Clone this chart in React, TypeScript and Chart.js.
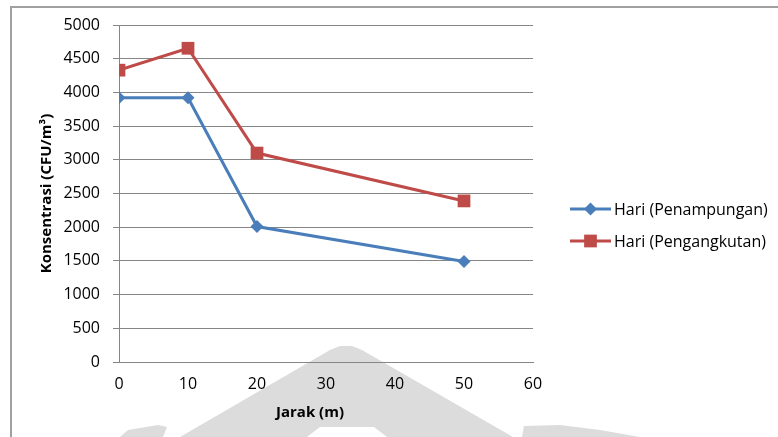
import { useEffect, useRef } from "react";
import { Chart, registerables } from "chart.js";

Chart.register(...registerables);

// Distance from the source (m)
const distances = [0, 10, 20, 50];
// Bacterial concentration (CFU/m³) per series
const penampungan = [3920, 3920, 2010, 1490];
const pengangkutan = [4330, 4655, 3100, 2390];

const seriesLabels = ["Hari (Penampungan)", "Hari (Pengangkutan)"];
const seriesColors = ["#4a7ebb", "#be4b48"];
const seriesMarkers = ["rectRot", "rect"];
const seriesRadius = [6.5, 9];

const xTickMin = 0;
const xTickMax = 60;
const xTickStep = 10;
const yTickMin = 0;
const yTickMax = 5000;
const yTickStep = 500;

const xAxisTitle = "Jarak (m)";
const yAxisTitle = "Konsentrasi (CFU/m³)";

const FONT = "'Open Sans', 'DejaVu Sans', sans-serif";
const GRID = "#868686";

// White page, faint grey emblem behind the plot, and the frame lines.
const backdropPlugin = {
  id: "backdrop",
  beforeDraw(chart: Chart) {
    const ctx = chart.ctx;
    ctx.save();
    ctx.fillStyle = "#ffffff";
    ctx.fillRect(0, 0, chart.width, chart.height);

    ctx.fillStyle = "#dcdcdc";
    ctx.beginPath();
    ctx.moveTo(180, 437);
    ctx.lineTo(330, 350);
    ctx.lineTo(340, 346);
    ctx.lineTo(352, 346);
    ctx.lineTo(362, 350);
    ctx.lineTo(513, 437);
    ctx.lineTo(387, 437);
    ctx.lineTo(374, 427);
    ctx.lineTo(320, 427);
    ctx.lineTo(307, 437);
    ctx.closePath();
    ctx.fill();

    ctx.beginPath();
    ctx.moveTo(120, 437);
    ctx.lineTo(128, 430);
    ctx.lineTo(158, 425);
    ctx.lineTo(167, 427);
    ctx.lineTo(163, 437);
    ctx.closePath();
    ctx.fill();

    ctx.beginPath();
    ctx.moveTo(522, 437);
    ctx.lineTo(524, 426);
    ctx.lineTo(560, 425);
    ctx.lineTo(600, 430);
    ctx.lineTo(640, 437);
    ctx.closePath();
    ctx.fill();

    ctx.strokeStyle = "#a0a0a0";
    ctx.lineWidth = 2;
    ctx.beginPath();
    ctx.moveTo(11, chart.height);
    ctx.lineTo(11, 7);
    ctx.lineTo(chart.width, 7);
    ctx.stroke();
    ctx.restore();
  },
};

function markerPath(ctx: CanvasRenderingContext2D, style: string, x: number, y: number, r: number) {
  ctx.beginPath();
  if (style === "rectRot") {
    ctx.moveTo(x - r, y);
    ctx.lineTo(x, y - r);
    ctx.lineTo(x + r, y);
    ctx.lineTo(x, y + r);
    ctx.closePath();
  } else {
    const s = Math.SQRT1_2 * r;
    ctx.rect(x - s, y - s, 2 * s, 2 * s);
  }
}

// Axis titles and the line-with-marker legend on the right.
const annotationsPlugin = {
  id: "annotations",
  afterDraw(chart: Chart) {
    const ctx = chart.ctx;
    const area = chart.chartArea;
    ctx.save();
    ctx.fillStyle = "#000000";
    ctx.font = `bold 15px ${FONT}`;
    ctx.textAlign = "center";
    ctx.textBaseline = "middle";
    ctx.fillText(xAxisTitle, 310, 413);

    ctx.save();
    ctx.translate(47, (area.top + area.bottom) / 2);
    ctx.rotate(-Math.PI / 2);
    ctx.fillText(yAxisTitle, 0, 0);
    ctx.restore();

    const legendY = [209, 241];
    chart.data.datasets.forEach((ds: any, i: number) => {
      const y = legendY[i];
      ctx.strokeStyle = seriesColors[i];
      ctx.lineWidth = 3;
      ctx.beginPath();
      ctx.moveTo(570, y);
      ctx.lineTo(611, y);
      ctx.stroke();
      ctx.fillStyle = seriesColors[i];
      markerPath(ctx, seriesMarkers[i], 590.5, y, seriesRadius[i]);
      ctx.fill();
      ctx.fillStyle = "#000000";
      ctx.font = `16px ${FONT}`;
      ctx.textAlign = "left";
      ctx.textBaseline = "middle";
      ctx.fillText(ds.label, 614, y + 1);
    });
    ctx.restore();
  },
};

export default function App() {
  const canvasRef = useRef<HTMLCanvasElement | null>(null);

  useEffect(() => {
    const canvas = canvasRef.current;
    if (!canvas) return;
    const series = [penampungan, pengangkutan];
    const chart = new Chart(canvas, {
      type: "line",
      data: {
        datasets: series.map((values, i) => ({
          label: seriesLabels[i],
          data: values.map((v, j) => ({ x: distances[j], y: v })),
          borderColor: seriesColors[i],
          backgroundColor: seriesColors[i],
          borderWidth: 3,
          pointStyle: seriesMarkers[i] as any,
          pointRadius: seriesRadius[i],
          pointHoverRadius: seriesRadius[i],
          pointBorderWidth: 0,
          tension: 0,
          fill: false,
        })),
      },
      options: {
        animation: false,
        responsive: false,
        maintainAspectRatio: false,
        devicePixelRatio: 1,
        layout: { padding: { top: 25, right: 245, bottom: 0, left: 0 } },
        plugins: {
          legend: { display: false },
          tooltip: { enabled: false },
        },
        scales: {
          x: {
            type: "linear",
            min: xTickMin,
            max: xTickMax,
            afterFit: (scale: any) => {
              scale.height = 75;
            },
            ticks: {
              stepSize: xTickStep,
              padding: 13,
              color: "#000000",
              font: { family: FONT, size: 16 },
              maxRotation: 0,
              callback: (value: any) => String(value),
            },
            grid: { display: false, drawTicks: false, tickLength: 0 },
            border: { display: true, color: GRID, width: 1 },
          },
          y: {
            type: "linear",
            min: yTickMin,
            max: yTickMax,
            afterFit: (scale: any) => {
              scale.width = 119;
            },
            ticks: {
              stepSize: yTickStep,
              padding: 13,
              color: "#000000",
              font: { family: FONT, size: 16 },
              callback: (value: any) => String(value),
            },
            grid: { color: GRID, lineWidth: 1, tickLength: 6, drawTicks: true },
            border: { display: true, color: GRID, width: 1 },
          },
        },
      },
      plugins: [backdropPlugin, annotationsPlugin],
    });
    return () => chart.destroy();
  }, []);

  return (
    <div style={{ position: "fixed", left: 0, top: 0, width: 778, height: 437 }}>
      <canvas ref={canvasRef} width={778} height={437} style={{ display: "block" }} />
    </div>
  );
}
